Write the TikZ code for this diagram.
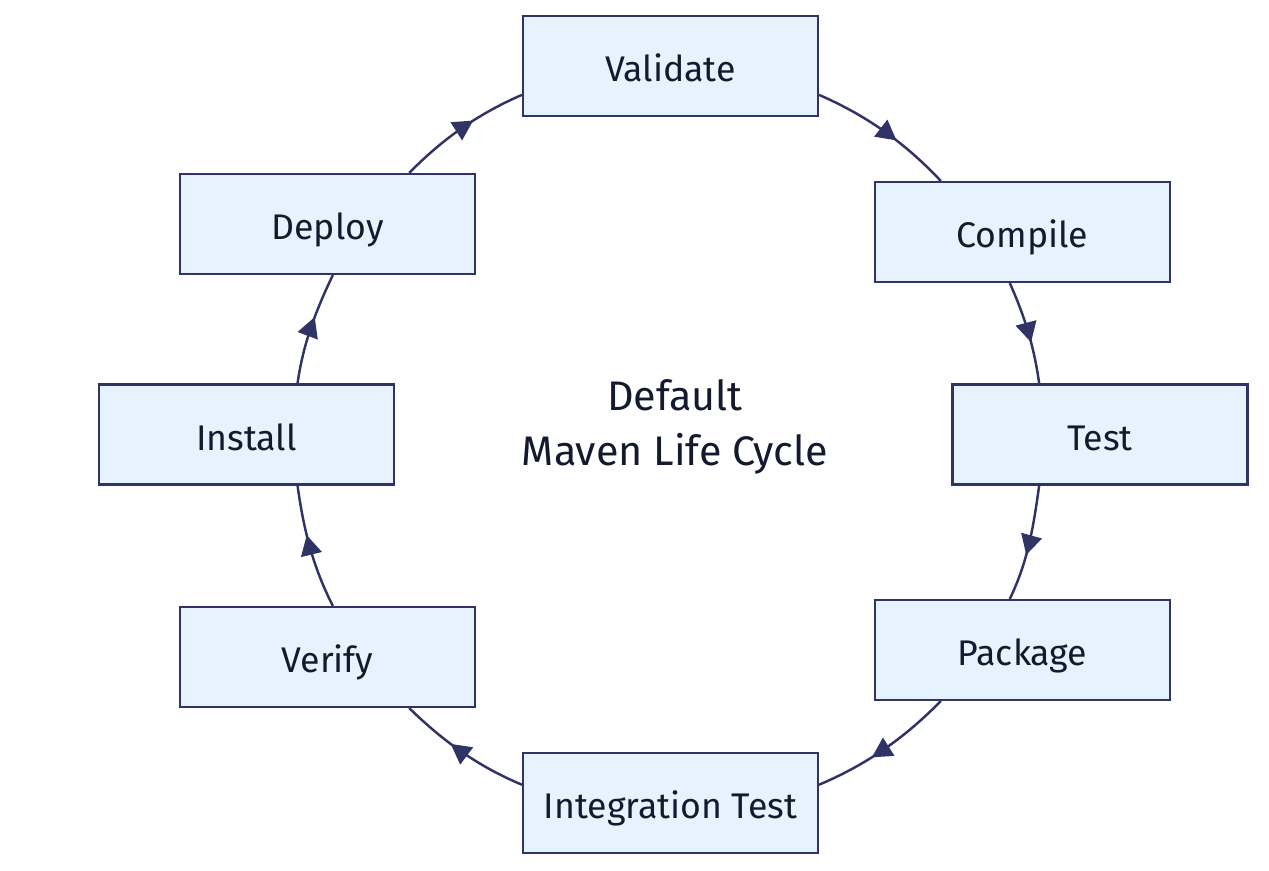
\documentclass[tikz,border=0pt]{standalone}
\usepackage{fontspec}
\setmainfont{Fira Sans}
\usepackage{tikz}
\usetikzlibrary{positioning,calc}
\usetikzlibrary{arrows.meta,decorations.markings}
\definecolor{boxfill}{HTML}{E6F3FE}
\definecolor{boxline}{HTML}{2F3366}
\definecolor{testo}{HTML}{131A2E}
\tikzstyle{fase} = [rectangle, minimum width=5.9cm, minimum height=2cm, text centered, text height=0.74cm, text depth=0.1cm, draw=boxline, fill=boxfill, line width=1.2pt, text=testo, font=\fontsize{20.3}{24}\selectfont]
\tikzstyle{arrow} = [draw=boxline, line width=1.4pt, looseness=0.9, postaction={decorate}, decoration={markings, mark=at position 0.6 with {\arrow{Triangle[length=0.4cm, width=0.42cm]}}}, boxline]

\begin{document}
\begin{tikzpicture}[x=0.02cm, y=0.02cm]
						\useasboundingbox (0,0) rectangle (1269,871);
						\node (p0) at (670.5,805) [fase] {Validate};
						\node (p1) at (1022.5,639) [fase] {Compile};
						\node (p2) at (1100,436.5) [fase] {Test};
						\node (p3) at (1022.5,221) [fase] {Package};
						\node (p4) at (670.5,68) [fase] {Integration Test};
						\node (p5) at (327.5,214) [fase] {Verify};
						\node (p6) at (246.5,436.5) [fase] {Install};
						\node (p7) at (327.5,647) [fase] {Deploy};
						\node[align=center, text=testo, font=\fontsize{23.5}{31}\selectfont] (c) at (675,444) {Default\\ Maven Life Cycle};
						
						\draw[arrow] (p0.-11.9) to[out=-23.6, in=133.3] (p1.148.8);
						\draw[arrow] (p1.-104) to[out=-65.9, in=97.8] (p2.140.2);
						\draw[arrow] (p2.-140.2) to[out=-97.8, in=64.1] (p3.104);
						\draw[arrow] (p3.-148.8) to[out=-134.5, in=23] (p4.7);
						\draw[arrow] (p4.173) to[out=157.2, in=-44.3] (p5.-32.8);
						\draw[arrow] (p5.84.9) to[out=117, in=-82.2] (p6.-45);
						\draw[arrow] (p6.45) to[out=82, in=-115.5] (p7.-84.9);
						\draw[arrow] (p7.32.8) to[out=45.4, in=-156.5] (p0.191.9);
					\end{tikzpicture}
\end{document}
